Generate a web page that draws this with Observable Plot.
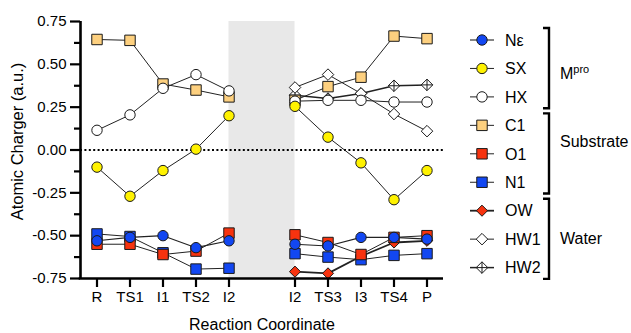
<!DOCTYPE html>
<html><head><meta charset="utf-8">
<script src="https://cdn.jsdelivr.net/npm/d3@7"></script>
<script src="https://cdn.jsdelivr.net/npm/@observablehq/plot@0.6"></script>
<style>body{margin:0;background:#fff} svg{display:block}</style>
</head><body><div id="chart"></div>
<script>
// ---- data ----
const leftStages  = ["R","TS1","I1","TS2","I2"];
const rightStages = ["I2","TS3","I3","TS4","P"];
const seriesNames = ["Nε","SX","HX","C1","O1","N1","OW","HW1","HW2"];
const groupNames  = ["Mpro","Substrate","Water"];
const groupMembers = [["Nε","SX","HX"],["C1","O1","N1"],["OW","HW1","HW2"]];

const NeLeft  = [-0.53, -0.51, -0.50, -0.57, -0.53];
const NeRight = [-0.55, -0.56, -0.51, -0.51, -0.52];
const SXLeft  = [-0.10, -0.27, -0.12, 0.005, 0.20];
const SXRight = [0.255, 0.075, -0.075, -0.29, -0.12];
const HXLeft  = [0.115, 0.205, 0.36, 0.44, 0.345];
const HXRight = [0.285, 0.29, 0.29, 0.28, 0.28];
const C1Left  = [0.645, 0.64, 0.385, 0.35, 0.31];
const C1Right = [0.29, 0.37, 0.425, 0.665, 0.65];
const O1Left  = [-0.55, -0.55, -0.61, -0.59, -0.485];
const O1Right = [-0.495, -0.54, -0.61, -0.51, -0.50];
const N1Left  = [-0.49, -0.505, -0.60, -0.695, -0.69];
const N1Right = [-0.605, -0.625, -0.64, -0.615, -0.605];
const OWLeft  = [null, null, null, null, null];
const OWRight = [-0.71, -0.72, -0.62, -0.54, -0.53];
const HW1Left = [null, null, null, null, null];
const HW1Right= [0.365, 0.44, 0.33, 0.21, 0.11];
const HW2Left = [null, null, null, null, null];
const HW2Right= [0.32, 0.30, 0.33, 0.375, 0.38];

const yMajorTicks = [-0.75, -0.5, -0.25, 0, 0.25, 0.5, 0.75];
const yMinorTicks = [-0.625, -0.375, -0.125, 0.125, 0.375, 0.625];

const seriesValues = {
  "Nε": [NeLeft, NeRight], "SX": [SXLeft, SXRight], "HX": [HXLeft, HXRight],
  "C1": [C1Left, C1Right], "O1": [O1Left, O1Right], "N1": [N1Left, N1Right],
  "OW": [OWLeft, OWRight], "HW1": [HW1Left, HW1Right], "HW2": [HW2Left, HW2Right]
};

// ---- styles ----
const crossedDiamond = {draw(ctx, size) {
  const r = Math.sqrt(size) * 0.62625;
  ctx.moveTo(0, -r); ctx.lineTo(r, 0); ctx.lineTo(0, r); ctx.lineTo(-r, 0); ctx.closePath();
  ctx.moveTo(0, -r); ctx.lineTo(0, r); ctx.moveTo(-r, 0); ctx.lineTo(r, 0);
}};
const BLUE = "#1247f2", YELLOW = "#fff200", TAN = "#fdd07f", RED = "#f7330f";
const style = {
  "Nε": {fill: BLUE, sym: "circle", d3sym: d3.symbolCircle, r: 5.2, lw: 1.1},
  "SX": {fill: YELLOW, sym: "circle", d3sym: d3.symbolCircle, r: 5.2, lw: 1},
  "HX": {fill: "#fff", sym: "circle", d3sym: d3.symbolCircle, r: 5.2, lw: 1},
  "C1": {fill: TAN, sym: "square", d3sym: d3.symbolSquare, r: 5.9, lw: 1},
  "O1": {fill: RED, sym: "square", d3sym: d3.symbolSquare, r: 5.9, lw: 1},
  "N1": {fill: BLUE, sym: "square", d3sym: d3.symbolSquare, r: 5.9, lw: 1},
  "OW": {fill: RED, sym: "diamond2", d3sym: d3.symbolDiamond2, r: 5.0, lw: 1.8},
  "HW1": {fill: "#fff", sym: "diamond2", d3sym: d3.symbolDiamond2, r: 5.2, lw: 1},
  "HW2": {fill: "#fff", sym: crossedDiamond, d3sym: crossedDiamond, r: 5.2, lw: 1.5}
};

// ---- table ----
const GAP = 1;
const stagePos = [...leftStages.map((s, i) => i), ...rightStages.map((s, i) => i + leftStages.length + GAP)];
const stageLabels = [...leftStages, ...rightStages];
const labelAt = new Map(stagePos.map((p, i) => [p, stageLabels[i]]));
const rows = [];
for (const name of seriesNames) {
  const [L, R] = seriesValues[name];
  L.forEach((v, i) => { if (v != null) rows.push({series: name, seg: name + "L", x: i, v}); });
  R.forEach((v, i) => { if (v != null) rows.push({series: name, seg: name + "R", x: i + leftStages.length + GAP, v}); });
}
const band = [{x1: leftStages.length - 1, x2: leftStages.length + GAP}];
const drawOrder = ["HW2", "HW1", "OW", "N1", "O1", "C1", "HX", "SX", "Nε"];

const lineMarks = drawOrder.map(n => Plot.line(rows.filter(d => d.series === n),
  {x: "x", y: "v", z: "seg", stroke: "#222", strokeWidth: style[n].lw}));
const dotMarks = drawOrder.map(n => Plot.dot(rows.filter(d => d.series === n),
  {x: "x", y: "v", symbol: () => style[n].sym, r: style[n].r, fill: style[n].fill, stroke: "#1a1a1a", strokeWidth: 1}));

const xmin = -0.5, xmax = stagePos[stagePos.length - 1] + 0.5;
const ymin = yMajorTicks[0], ymax = yMajorTicks[yMajorTicks.length - 1];

const chart = Plot.plot({
  width: 631, height: 333,
  marginLeft: 80, marginRight: 188, marginTop: 21, marginBottom: 55,
  x: {domain: [xmin, xmax]},
  y: {domain: [ymin, ymax]},
  symbol: {type: "identity"},
  style: {fontFamily: "Liberation Sans, Arial, Helvetica, sans-serif", fontSize: "15px", color: "#000", background: "#fff"},
  marks: [
    Plot.rect(band, {x1: "x1", x2: "x2", y1: ymin, y2: ymax, fill: "#e8e8e8"}),
    Plot.ruleY([0], {stroke: "#000", strokeWidth: 1.8, strokeDasharray: "2,2.4"}),
    ...lineMarks,
    ...dotMarks,
    Plot.axisY(yMajorTicks, {anchor: "left", tickSize: 10, tickPadding: 4, strokeWidth: 2.2, fontSize: 15,
      tickFormat: d => d.toFixed(2), label: null}),
    Plot.axisY(yMinorTicks, {anchor: "left", tickSize: 6, tickPadding: 4, strokeWidth: 2.2, tickFormat: () => "", label: null}),
    Plot.axisX(stagePos, {anchor: "bottom", tickSize: 9, tickPadding: 4, strokeWidth: 2.2, fontSize: 15,
      tickFormat: d => labelAt.get(d), label: null}),
    Plot.ruleX([xmin], {y1: ymin, y2: ymax, stroke: "#000", strokeWidth: 2.6}),
    Plot.ruleY([ymin], {x1: xmin - 0.04, x2: xmax, stroke: "#000", strokeWidth: 2.6})
  ]
});
document.getElementById("chart").appendChild(chart);

// ---- titles, legend, brackets ----
const svg = d3.select(chart);
const font = "Liberation Sans, Arial, Helvetica, sans-serif";
svg.append("text").attr("transform", "translate(23,141.5) rotate(-90)")
  .attr("text-anchor", "middle").attr("font-family", font).attr("font-size", 16.5).attr("fill", "#000")
  .text("Atomic Charger (a.u.)");
svg.append("text").attr("x", 262).attr("y", 330)
  .attr("text-anchor", "middle").attr("font-family", font).attr("font-size", 16).attr("fill", "#000")
  .text("Reaction Coordinate");

const lg = svg.append("g").attr("font-family", font).attr("font-size", 16).attr("fill", "#000")
  .attr("text-anchor", "start");
const rowY = i => 40 + i * 28.45;
seriesNames.forEach((n, i) => {
  const y = rowY(i), s = style[n];
  lg.append("line").attr("x1", 470).attr("x2", 494).attr("y1", y).attr("y2", y)
    .attr("stroke", "#222").attr("stroke-width", s.lw);
  lg.append("path").attr("transform", `translate(482,${y})`)
    .attr("d", d3.symbol().type(s.d3sym).size(Math.PI * s.r * s.r)())
    .attr("fill", s.fill).attr("stroke", "#1a1a1a").attr("stroke-width", 1);
  lg.append("text").attr("x", 505).attr("y", y).attr("dy", "0.36em").attr("text-anchor", "start").text(n);
});
const labelBaseline = [79, 146.5, 243.5];
groupMembers.forEach((members, g) => {
  const i0 = seriesNames.indexOf(members[0]), i1 = seriesNames.indexOf(members[members.length - 1]);
  const top = rowY(i0) - 12, bot = rowY(i1) + 11.3;
  lg.append("path").attr("d", `M543,${top}H549V${bot}H543`).attr("fill", "none")
    .attr("stroke", "#000").attr("stroke-width", 2.4);
  const t = lg.append("text").attr("x", 560).attr("y", labelBaseline[g]).attr("text-anchor", "start");
  if (groupNames[g] === "Mpro") {
    t.text("M");
    t.append("tspan").attr("font-size", 11).attr("dy", -6).text("pro");
  } else t.text(groupNames[g]);
});
</script>
</body></html>
